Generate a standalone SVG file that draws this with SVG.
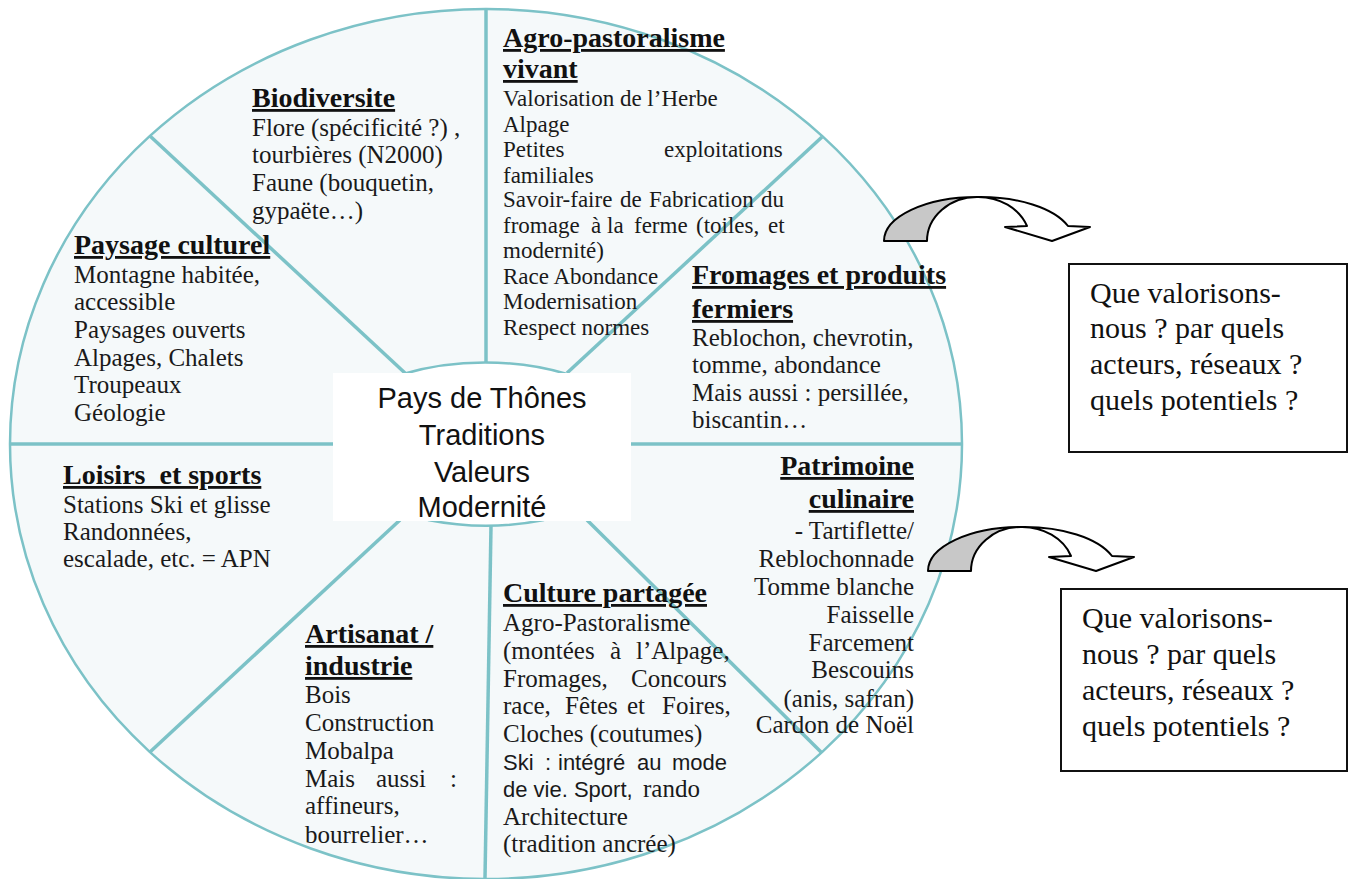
<svg xmlns="http://www.w3.org/2000/svg" xmlns:xlink="http://www.w3.org/1999/xlink" width="1354" height="879" viewBox="0 0 1354 879">
<style>
.t{font-family:"Liberation Serif","Times New Roman",serif;font-size:25px;fill:#1a1a1a}
.a{font-size:23px}
.h{font-weight:bold;font-size:28px;fill:#111;text-decoration:underline}
.s{font-family:"Liberation Sans",Arial,sans-serif;font-size:22px}
.c{font-family:"Liberation Sans",Arial,sans-serif;font-size:29px;fill:#111;text-anchor:middle}
.q{font-family:"Liberation Serif","Times New Roman",serif;font-size:30px;fill:#111}
.e{text-anchor:end}
.wheel{fill:#F5F9FA;stroke:#7CC2C7;stroke-width:2.5}
.div{stroke:#7CC2C7;stroke-width:3.5;fill:none}
.arc{stroke:#7CC2C7;stroke-width:2.5;fill:#fff}
.box{fill:#fff;stroke:#111;stroke-width:2}
.ar{stroke:#000;stroke-width:2;stroke-linejoin:round}
</style>
<defs>
<g id="curvedArrow">
<path class="ar" fill="#C8C8C8" d="M884,241 A93,44 0 0 1 977,197 A50,44 0 0 0 927,241 Z"/>
<path class="ar" fill="#fff" d="M977,197 A93,44 0 0 1 1068,226 L1090,227 L1052,241 L1005,227 L1027,226 A52,44 0 0 0 977,197 Z"/>
</g>
</defs>
<rect width="1354" height="879" fill="#fff"/>
<g id="wheel">
<ellipse class="wheel" cx="486" cy="444" rx="476" ry="435"/>
<line class="div" x1="486" y1="9" x2="486" y2="362"/>
<line class="div" x1="491" y1="526" x2="485" y2="878"/>
<line class="div" x1="10" y1="444" x2="334" y2="444"/>
<line class="div" x1="630" y1="444" x2="962" y2="444"/>
<line class="div" x1="150" y1="136" x2="405" y2="373"/>
<line class="div" x1="822" y1="137" x2="567" y2="373"/>
<line class="div" x1="150" y1="752" x2="400" y2="520"/>
<line class="div" x1="822" y1="753" x2="587" y2="520"/>
</g>
<g id="node-center">
<path class="arc" d="M403,374 A160,82 0 0 1 567,374"/>
<path class="arc" d="M428,520 A160,82 0 0 0 544,520"/>
<rect x="333" y="373" width="298" height="148" fill="#fff"/>
<text class="c" x="482" y="408">Pays de Thônes</text>
<text class="c" x="482" y="445">Traditions</text>
<text class="c" x="482" y="482">Valeurs</text>
<text class="c" x="482" y="517">Modernité</text>
</g>
<g id="node-biodiversite">
<text class="t h" x="252" y="107">Biodiversite</text>
<text class="t" x="252" y="136">Flore (spécificité ?) ,</text>
<text class="t" x="252" y="163">tourbières (N2000)</text>
<text class="t" x="252" y="191">Faune (bouquetin,</text>
<text class="t" x="252" y="219">gypaëte…)</text>
</g>
<g id="node-paysage">
<text class="t h" x="74" y="254">Paysage culturel</text>
<text class="t" x="74" y="283">Montagne habitée,</text>
<text class="t" x="74" y="310">accessible</text>
<text class="t" x="74" y="338">Paysages ouverts</text>
<text class="t" x="74" y="366">Alpages, Chalets</text>
<text class="t" x="74" y="393">Troupeaux</text>
<text class="t" x="74" y="421">Géologie</text>
</g>
<g id="node-loisirs">
<text class="t h" x="63" y="484" xml:space="preserve">Loisirs  et sports</text>
<text class="t" x="63" y="513">Stations Ski et glisse</text>
<text class="t" x="63" y="540">Randonnées,</text>
<text class="t" x="63" y="567">escalade, etc. = APN</text>
</g>
<g id="node-artisanat">
<text class="t h" x="305" y="643">Artisanat /</text>
<text class="t h" x="305" y="675">industrie</text>
<text class="t" x="305" y="703">Bois</text>
<text class="t" x="305" y="731">Construction</text>
<text class="t" x="305" y="759">Mobalpa</text>
<text class="t" y="787"><tspan x="305">Mais</tspan><tspan x="376">aussi</tspan><tspan x="450">:</tspan></text>
<text class="t" x="305" y="814">affineurs,</text>
<text class="t" x="305" y="843">bourrelier…</text>
</g>
<g id="node-agro">
<text class="t h" x="503" y="47">Agro-pastoralisme</text>
<text class="t h" x="503" y="78">vivant</text>
<text class="t a" x="503" y="106">Valorisation de l’Herbe</text>
<text class="t a" x="503" y="132">Alpage</text>
<text class="t a" y="157"><tspan x="503">Petites</tspan><tspan x="664">exploitations</tspan></text>
<text class="t a" x="503" y="183">familiales</text>
<text class="t a" y="207"><tspan x="503">Savoir-faire</tspan><tspan x="620">de</tspan><tspan x="649">Fabrication</tspan><tspan x="761">du</tspan></text>
<text class="t a" y="233"><tspan x="503">fromage</tspan><tspan x="591">à</tspan><tspan x="607">la</tspan><tspan x="634">ferme</tspan><tspan x="696">(toiles,</tspan><tspan x="768">et</tspan></text>
<text class="t a" x="503" y="258">modernité)</text>
<text class="t a" x="503" y="284">Race Abondance</text>
<text class="t a" x="503" y="309">Modernisation</text>
<text class="t a" x="503" y="335">Respect normes</text>
</g>
<g id="node-fromages">
<text class="t h" x="692" y="284">Fromages et produits</text>
<text class="t h" x="692" y="318">fermiers</text>
<text class="t" x="692" y="346">Reblochon, chevrotin,</text>
<text class="t" x="692" y="373">tomme, abondance</text>
<text class="t" x="692" y="401">Mais aussi : persillée,</text>
<text class="t" x="692" y="428">biscantin…</text>
</g>
<g id="node-patrimoine">
<text class="t h e" x="914" y="475">Patrimoine</text>
<text class="t h e" x="914" y="508">culinaire</text>
<text class="t e" x="914" y="539">- Tartiflette/</text>
<text class="t e" x="914" y="567">Reblochonnade</text>
<text class="t e" x="914" y="595">Tomme blanche</text>
<text class="t e" x="914" y="623">Faisselle</text>
<text class="t e" x="914" y="651">Farcement</text>
<text class="t e" x="914" y="678">Bescouins</text>
<text class="t e" x="914" y="707">(anis, safran)</text>
<text class="t e" x="914" y="733">Cardon de Noël</text>
</g>
<g id="node-culture">
<text class="t h" x="503" y="602">Culture partagée</text>
<text class="t" x="503" y="631">Agro-Pastoralisme</text>
<text class="t" y="659"><tspan x="503">(montées</tspan><tspan x="610">à</tspan><tspan x="636">l’Alpage,</tspan></text>
<text class="t" y="687"><tspan x="503">Fromages,</tspan><tspan x="631">Concours</tspan></text>
<text class="t" y="714"><tspan x="503">race,</tspan><tspan x="565">Fêtes</tspan><tspan x="627">et</tspan><tspan x="662">Foires,</tspan></text>
<text class="t" x="503" y="742">Cloches (coutumes)</text>
<text class="t s" y="770"><tspan x="503">Ski</tspan><tspan x="545">:</tspan><tspan x="558">intégré</tspan><tspan x="637">au</tspan><tspan x="672">mode</tspan></text>
<text class="t" y="797"><tspan class="s" x="503">de vie. Sport,</tspan><tspan x="643">rando</tspan></text>
<text class="t" x="503" y="825">Architecture</text>
<text class="t" x="503" y="852">(tradition ancrée)</text>
</g>
<g id="connectors">
<use href="#curvedArrow" xlink:href="#curvedArrow"/>
<use href="#curvedArrow" xlink:href="#curvedArrow" transform="translate(44,330)"/>
</g>
<g id="node-box1">
<rect class="box" x="1069" y="264" width="278" height="188"/>
<text class="q" x="1090" y="303">Que valorisons-</text>
<text class="q" x="1090" y="338">nous ? par quels</text>
<text class="q" x="1090" y="374">acteurs, réseaux ?</text>
<text class="q" x="1090" y="410">quels potentiels ?</text>
</g>
<g id="node-box2">
<rect class="box" x="1061" y="589" width="286" height="182"/>
<text class="q" x="1082" y="628">Que valorisons-</text>
<text class="q" x="1082" y="664">nous ? par quels</text>
<text class="q" x="1082" y="700">acteurs, réseaux ?</text>
<text class="q" x="1082" y="736">quels potentiels ?</text>
</g>
</svg>
